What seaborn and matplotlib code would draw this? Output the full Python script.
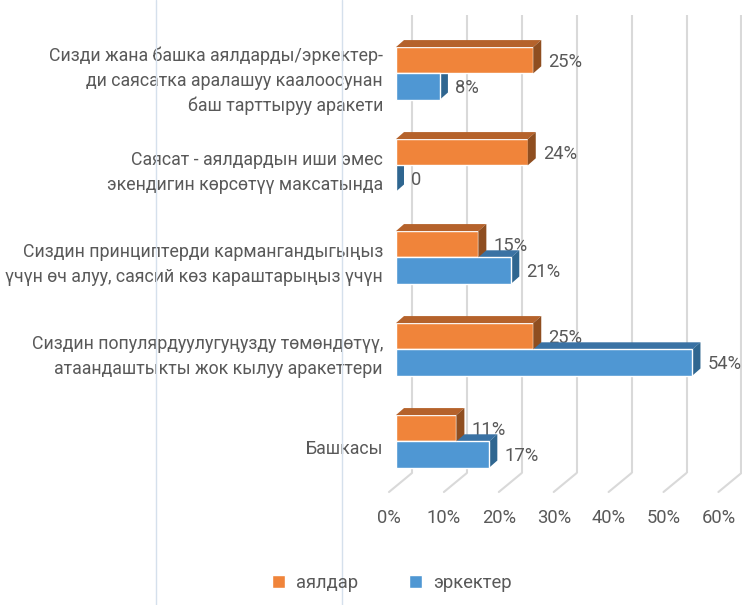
import numpy as np
import pandas as pd
import matplotlib
matplotlib.use("Agg")
import matplotlib.pyplot as plt
from matplotlib.patches import Polygon, Patch
from matplotlib.lines import Line2D
import seaborn as sns

# data
categories = [
    "Сизди жана башка аялдарды/эркектер-\nди саясатка аралашуу каалоосунан\nбаш тарттыруу аракети",
    "Саясат - аялдардын иши эмес\nэкендигин көрсөтүү максатында",
    "Сиздин принциптерди кармангандыгыңыз\nүчүн өч алуу, саясий көз караштарыңыз үчүн",
    "Сиздин популярдуулугуңузду төмөндөтүү,\nатаандаштыкты жок кылуу аракеттери",
    "Башкасы",
]
series_names = ["аялдар", "эркектер"]
ayaldar = [25, 24, 15, 25, 11]
erkekter = [8, 0, 21, 54, 17]
xticks = [0, 10, 20, 30, 40, 50, 60]

df = pd.DataFrame({
    "category": categories * 2,
    "group": [series_names[0]] * len(categories) + [series_names[1]] * len(categories),
    "value": ayaldar + erkekter,
})

sns.set_theme(style="white")
plt.rcParams["font.family"] = ["Roboto", "DejaVu Sans"]
text_col = "#595959"
fs = 13.2
fs_cat = 12.8

front = ["#F0843A", "#4F97D3"]
top = ["#B5622B", "#3A72A4"]
side = ["#8F4E20", "#2F6690"]

fig = plt.figure(figsize=(7.47, 6.05), dpi=100)
W, H = 747, 605
ppx = 5.49          # pixels per percent
x0px = 396          # pixel of 0%
gap = 92            # pixels between categories
y0px = 73.3         # pixel of first category centre
xl = (-5, 63)
yl = (4.7, -0.8)
left = x0px + xl[0] * ppx
right = x0px + xl[1] * ppx
topp = y0px + yl[1] * gap
bot = y0px + yl[0] * gap
ax = fig.add_axes([left / W, 1 - bot / H, (right - left) / W, (bot - topp) / H])

sns.barplot(data=df, y="category", x="value", hue="group", orient="h",
            palette=front, saturation=1, width=0.57, legend=False, ax=ax, zorder=2.5)
ax.set_xlim(*xl)
ax.set_ylim(*yl)
ax.axis("off")

dx = 8 / ppx
dy = -7 / gap

# 3d walls / gridlines
for v in xticks:
    ax.plot([v + 16 / ppx, v + 16 / ppx], [(15 - y0px) / gap, (473 - y0px) / gap],
            color="#D9D9D9", lw=1.5, zorder=1, solid_capstyle="butt")
    ax.plot([v + 16 / ppx, v - 7 / ppx], [(473 - y0px) / gap, (492 - y0px) / gap],
            color="#D9D9D9", lw=1.5, zorder=1)
    ax.text(v - 7 / ppx, (518 - y0px) / gap, f"{v}%", ha="center", va="center",
            fontsize=fs, color=text_col, clip_on=False)

# 3d faces on top of seaborn bars
for k, cont in enumerate(ax.containers):
    z = 2.6 if k == 0 else 2.2
    for bar in cont:
        bx, by = bar.get_x(), bar.get_y()
        bw, bh = bar.get_width(), bar.get_height()
        ax.add_patch(Polygon([(bx, by), (bx + dx, by + dy), (bx + bw + dx, by + dy), (bx + bw, by)],
                             closed=True, facecolor=top[k], edgecolor="none", zorder=z))
        ax.add_patch(Polygon([(bx + bw, by), (bx + bw + dx, by + dy), (bx + bw + dx, by + bh + dy),
                              (bx + bw, by + bh)],
                             closed=True, facecolor=side[k], edgecolor="none", zorder=z))
        val = bw
        lab = f"{val:.0f}%" if val else "0"
        ax.text(bx + bw + 2.75, by + bh / 2 + 0.02, lab, ha="left", va="center",
                fontsize=fs, color=text_col, zorder=2)

# category labels
for i, c in enumerate(categories):
    ax.text((383 - x0px) / ppx, i + 0.08, c, ha="right", va="center", fontsize=fs_cat,
            color=text_col, linespacing=1.5, clip_on=False)

# faint page guides
for gx in (155.5, 341.5):
    fig.add_artist(Line2D([gx / W, gx / W], [0, 1], transform=fig.transFigure,
                          color="#D5E0EC", lw=1))

handles = [Patch(facecolor=front[0], label=series_names[0]),
           Patch(facecolor=front[1], label=series_names[1])]
fig.legend(handles=handles, loc="center", bbox_to_anchor=(392 / W, 1 - 583 / H), ncol=2,
           frameon=False, fontsize=fs, handlelength=0.7, handleheight=0.7,
           handletextpad=0.6, columnspacing=2.8, labelcolor=text_col)

fig.savefig("out.png", dpi=100)
